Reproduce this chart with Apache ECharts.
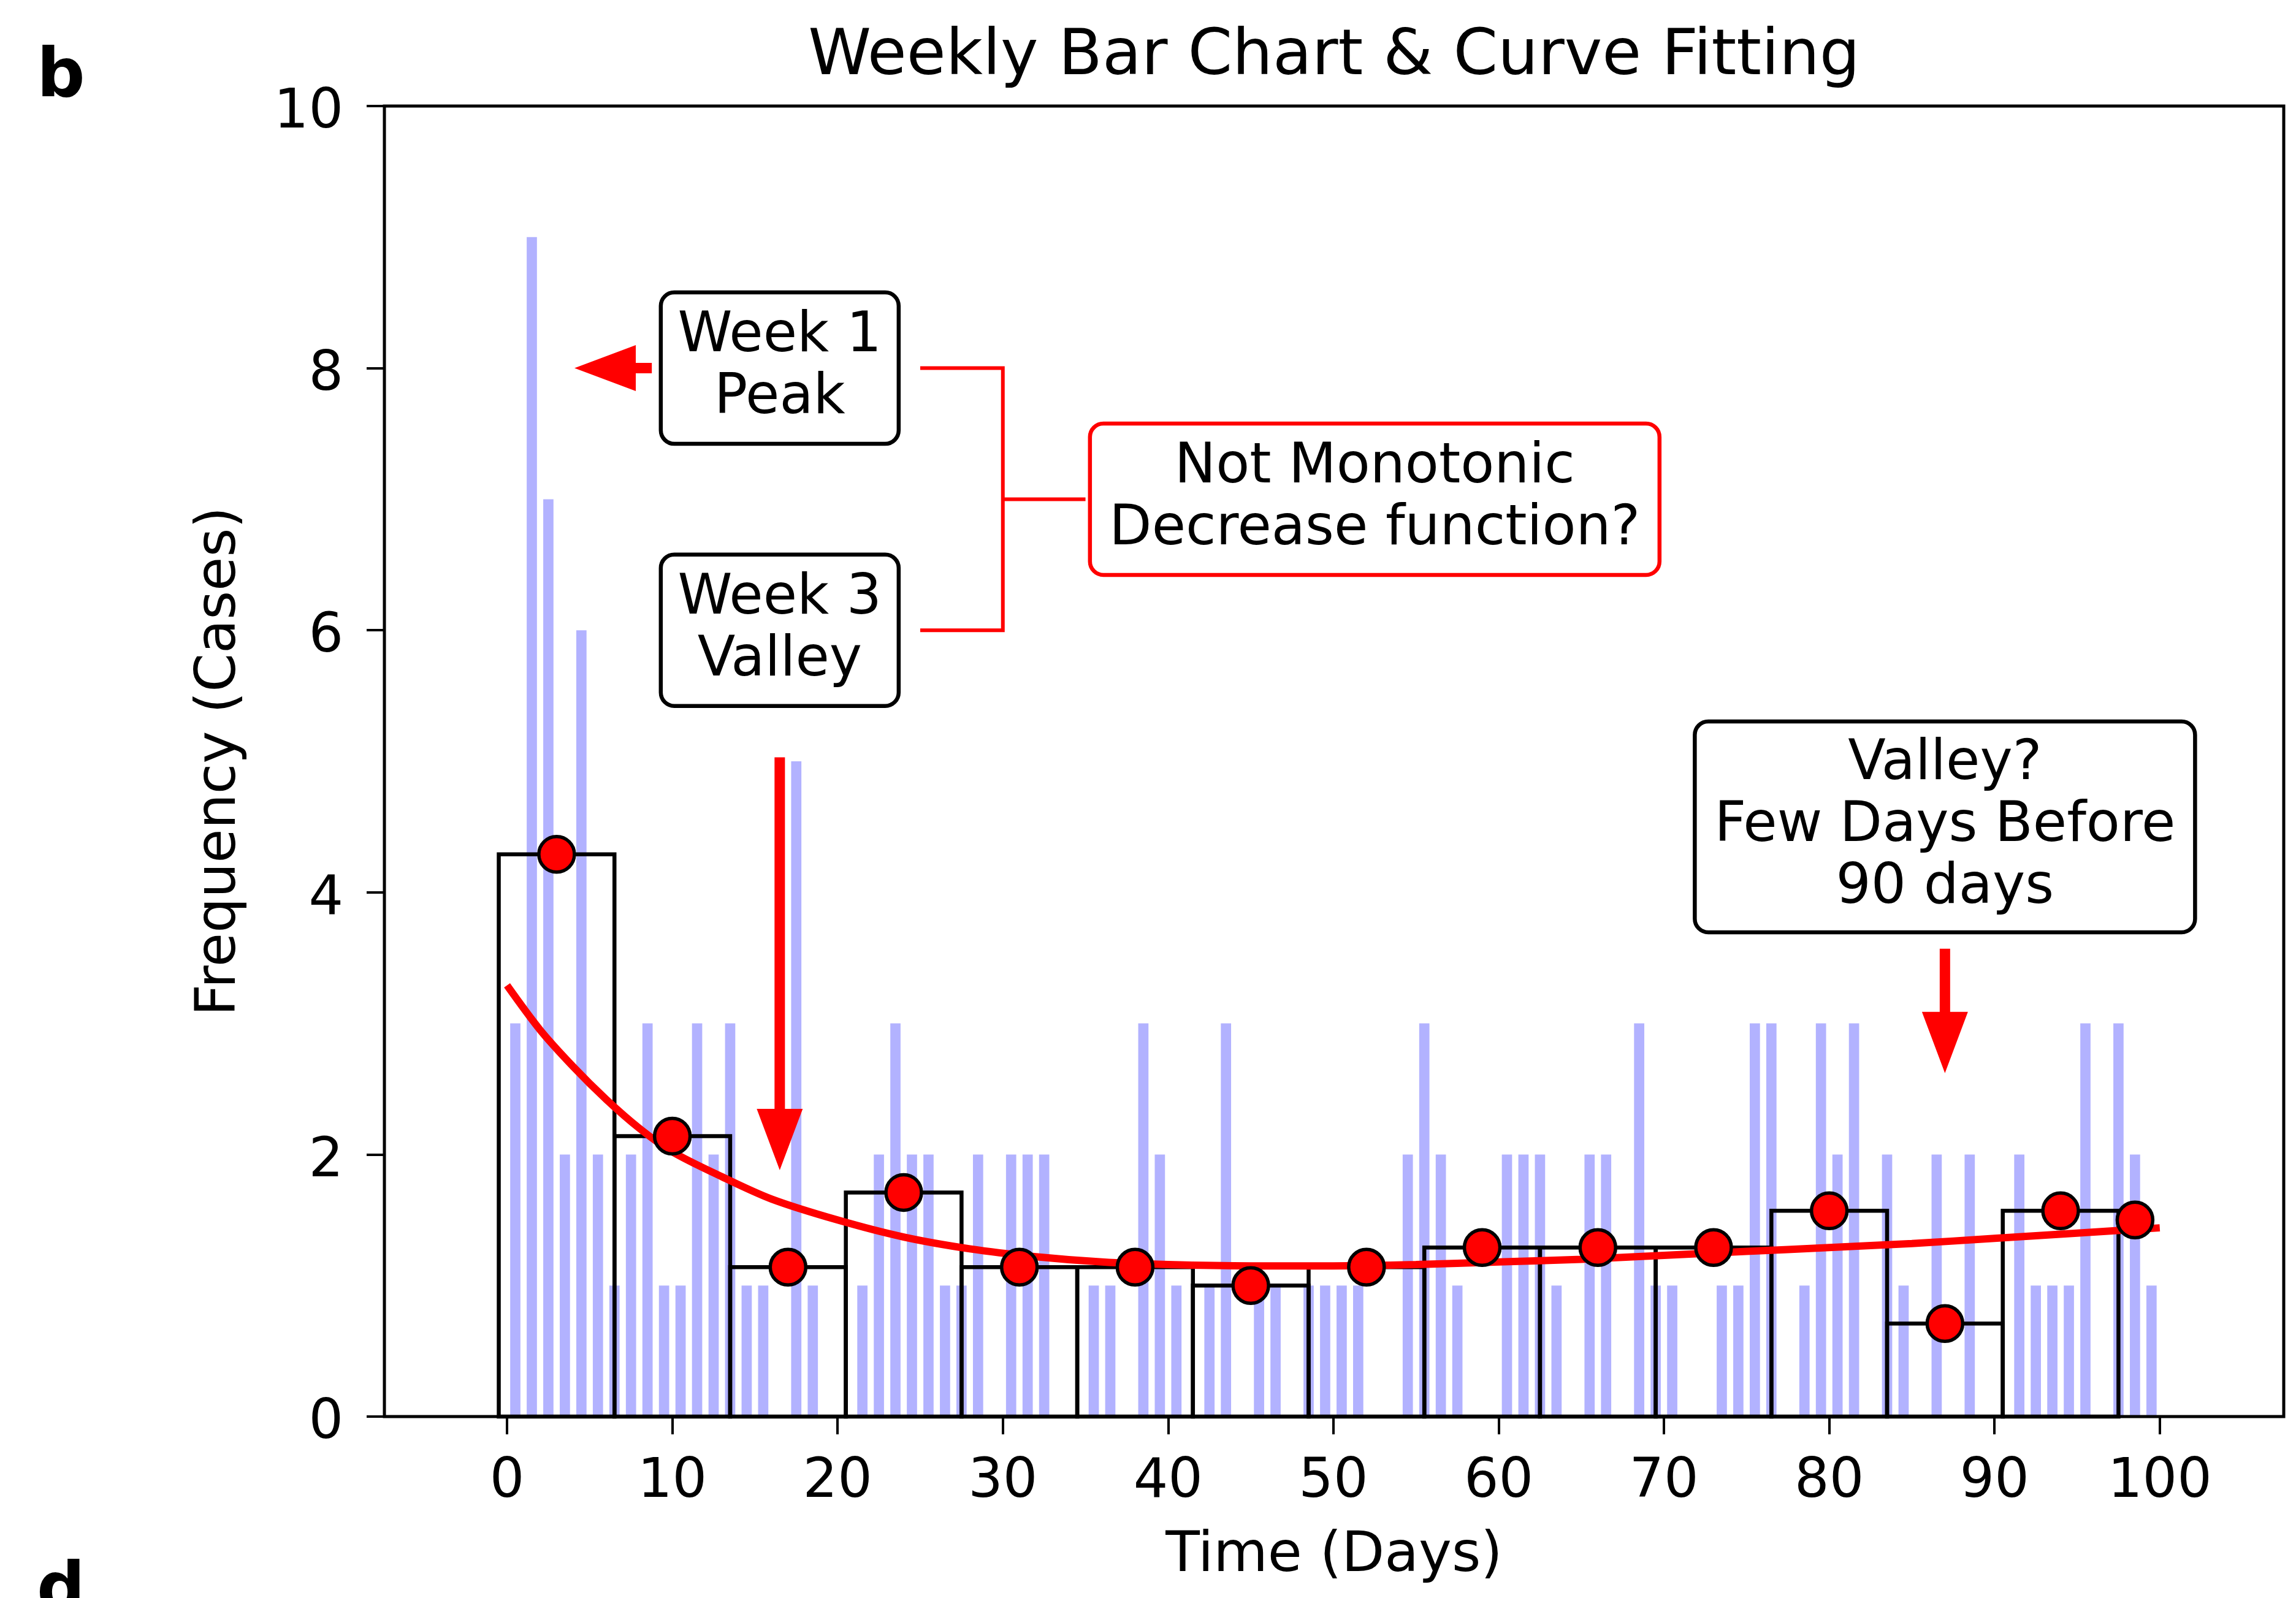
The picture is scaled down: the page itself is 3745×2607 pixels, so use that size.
<!DOCTYPE html>
<html>
<head>
<meta charset="utf-8">
<title>Weekly Bar Chart & Curve Fitting</title>
<script src="https://cdn.jsdelivr.net/npm/echarts@6/dist/echarts.min.js"></script>
<style>
  html, body { margin: 0; padding: 0; background: #fff; }
  #chart { width: 3745px; height: 2607px; }
</style>
</head>
<body>
<div id="chart"></div>
<script>
// daily case counts, day 0 .. 99 (bar drawn in the middle of each day)
const dailyCases = [
  3, 9, 7, 2, 6, 2, 1,
  2, 3, 1, 1, 3, 2, 3,
  1, 1, 0, 5, 1, 0, 0,
  1, 2, 3, 2, 2, 1, 1,
  2, 0, 2, 2, 2, 0, 0,
  1, 1, 0, 3, 2, 1, 0,
  1, 3, 0, 1, 1, 0, 1,
  1, 1, 1, 0, 0, 2, 3,
  2, 1, 0, 0, 2, 2, 2,
  1, 0, 2, 2, 0, 3, 1,
  1, 0, 0, 1, 1, 3, 3,
  0, 1, 3, 2, 3, 0, 2,
  1, 0, 2, 0, 2, 0, 0,
  2, 1, 1, 1, 3, 0, 3,
  2, 1
]

// weekly mean cases per day, plotted at the middle of each week
const weekCenters = [3, 10, 17, 24, 31, 38, 45, 52, 59, 66, 73, 80, 87, 94, 98.5]
const weekMeans = [4.29, 2.14, 1.14, 1.71, 1.14, 1.14, 1.0, 1.14, 1.29, 1.29, 1.29, 1.57, 0.71, 1.57, 1.5]
const fullWeeks = 14

// fitted curve
const fitDays = [0, 2, 4, 6, 8, 10, 13, 16, 20, 24, 28, 32, 36, 40, 45, 50, 55, 60, 65, 70, 75, 80, 85, 90, 95, 100]
const fitValues = [3.29, 2.95, 2.67, 2.42, 2.20, 2.02, 1.83, 1.66, 1.50, 1.37, 1.28, 1.22, 1.18, 1.16, 1.15, 1.15, 1.16, 1.18, 1.20, 1.23, 1.26, 1.29, 1.32, 1.36, 1.40, 1.44]

const xTicks = [0, 10, 20, 30, 40, 50, 60, 70, 80, 90, 100]
const xMin = -7.42
const xMax = 107.5
const yMax = 10

const FONT = 'DejaVu Sans'
const RED = '#ff0000'

const chart = echarts.init(document.getElementById('chart'))

const option = {
  backgroundColor: '#fff',
  animation: false,
  grid: { left: 627, right: 20, top: 173, bottom: 296, containLabel: false, outerBoundsMode: 'none' },
  xAxis: {
    type: 'value',
    min: xMin,
    max: xMax,
    name: 'Time (Days)',
    nameLocation: 'middle',
    nameGap: 183,
    nameTextStyle: { fontSize: 91, fontFamily: FONT, color: '#000' },
    axisLine: { show: false, onZero: false },
    axisTick: { show: true, customValues: xTicks, length: 29, lineStyle: { color: '#000', width: 4 } },
    axisLabel: { customValues: xTicks, fontSize: 89, fontFamily: FONT, color: '#000', margin: 63 },
    splitLine: { show: false },
  },
  yAxis: {
    type: 'value',
    min: 0,
    max: yMax,
    interval: 2,
    name: 'Frequency (Cases)',
    nameLocation: 'middle',
    nameGap: 222,
    nameTextStyle: { fontSize: 90, fontFamily: FONT, color: '#000' },
    axisLine: { show: false, onZero: false },
    axisTick: { show: true, length: 29, lineStyle: { color: '#000', width: 4 } },
    axisLabel: {
      margin: 67,
      formatter: '{v|{value}}',
      rich: { v: { fontSize: 89, fontFamily: FONT, color: '#000', padding: [24, 0, 0, 0] } },
    },
    splitLine: { show: false },
  },
  series: [
    {
      name: 'daily',
      type: 'custom',
      z: 1,
      encode: { x: 0, y: 1 },
      data: dailyCases.map((v, i) => [i + 0.5, v]),
      renderItem: (params, api) => {
        const x = api.value(0)
        const v = api.value(1)
        const p0 = api.coord([x - 0.31, v])
        const p1 = api.coord([x + 0.31, 0])
        return {
          type: 'rect',
          shape: { x: p0[0], y: p0[1], width: p1[0] - p0[0], height: p1[1] - p0[1] },
          style: { fill: 'rgba(0,0,255,0.3)' },
        }
      },
    },
    {
      name: 'weekly',
      type: 'custom',
      z: 2,
      encode: { x: 0, y: 1 },
      data: weekCenters.slice(0, fullWeeks).map((c, i) => [c, weekMeans[i]]),
      renderItem: (params, api) => {
        const c = api.value(0)
        const v = api.value(1)
        const p0 = api.coord([c - 3.5, v])
        const p1 = api.coord([c + 3.5, 0])
        return {
          type: 'rect',
          shape: { x: p0[0], y: p0[1], width: p1[0] - p0[0], height: p1[1] - p0[1] },
          style: { fill: 'none', stroke: '#000', lineWidth: 6.5 },
        }
      },
    },
    {
      name: 'fit',
      type: 'line',
      z: 3,
      smooth: 0.3,
      showSymbol: false,
      data: fitDays.map((d, i) => [d, fitValues[i]]),
      lineStyle: { color: RED, width: 12 },
    },
    {
      name: 'weekly mean',
      type: 'scatter',
      z: 4,
      symbolSize: 58,
      data: weekCenters.map((c, i) => [c, weekMeans[i]]),
      itemStyle: { color: RED, borderColor: '#000', borderWidth: 5.5, opacity: 1 },
    },
  ],
}

chart.setOption(option)

// ---- annotations, placed in data coordinates ----
const px = (x, y) => chart.convertToPixel({ gridIndex: 0 }, [x, y])

function textBox(x, y, w, h, text, borderColor) {
  const c = px(x, y)
  return {
    type: 'group',
    z: 100,
    children: [
      {
        type: 'rect',
        z: 100,
        shape: { x: c[0] - w / 2, y: c[1] - h / 2, width: w, height: h, r: 22 },
        style: { fill: '#fff', stroke: borderColor, lineWidth: 6.5 },
      },
      {
        type: 'text',
        z: 101,
        style: {
          text: text,
          x: c[0],
          y: c[1],
          fill: '#000',
          font: '90px "' + FONT + '"',
          lineHeight: 101,
          align: 'center',
          verticalAlign: 'middle',
          textAlign: 'center',
          textVerticalAlign: 'middle',
        },
      },
    ],
  }
}

function arrow(from, to) {
  const a = px(from[0], from[1])
  const b = px(to[0], to[1])
  const dx = b[0] - a[0]
  const dy = b[1] - a[1]
  const len = Math.sqrt(dx * dx + dy * dy)
  const ux = dx / len
  const uy = dy / len
  const nx = -uy
  const ny = ux
  const sw = 8.5
  const hw = 37.5
  const hl = 100
  const neck = [b[0] - ux * hl, b[1] - uy * hl]
  return {
    type: 'polygon',
    z: 100,
    shape: {
      points: [
        [a[0] + nx * sw, a[1] + ny * sw],
        [neck[0] + nx * sw, neck[1] + ny * sw],
        [neck[0] + nx * hw, neck[1] + ny * hw],
        b,
        [neck[0] - nx * hw, neck[1] - ny * hw],
        [neck[0] - nx * sw, neck[1] - ny * sw],
        [a[0] - nx * sw, a[1] - ny * sw],
      ],
    },
    style: { fill: RED },
  }
}

function polyline(pts, width) {
  return {
    type: 'polyline',
    z: 99,
    shape: { points: pts.map((p) => px(p[0], p[1])) },
    style: { stroke: RED, lineWidth: width, fill: 'none' },
  }
}

const topLeft = px(xMin, yMax)
const botRight = px(xMax, 0)

chart.setOption({
  graphic: [
    // axes frame
    {
      type: 'rect',
      z: 90,
      shape: { x: topLeft[0], y: topLeft[1], width: botRight[0] - topLeft[0], height: botRight[1] - topLeft[1] },
      style: { fill: 'none', stroke: '#000', lineWidth: 5 },
    },
    {
      type: 'text',
      z: 100,
      style: {
        text: 'Weekly Bar Chart & Curve Fitting',
        x: (topLeft[0] + botRight[0]) / 2,
        y: 94,
        fill: '#000',
        font: '104px "' + FONT + '"',
        align: 'center',
        verticalAlign: 'middle',
        textAlign: 'center',
        textVerticalAlign: 'middle',
      },
    },
    {
      type: 'text',
      z: 100,
      style: {
        text: 'b',
        x: 60,
        y: 128,
        fill: '#000',
        font: 'bold 110px "' + FONT + '"',
        align: 'left',
        verticalAlign: 'middle',
        textAlign: 'left',
        textVerticalAlign: 'middle',
      },
    },
    {
      type: 'text',
      z: 100,
      style: {
        text: 'd',
        x: 60,
        y: 2598,
        fill: '#000',
        font: 'bold 110px "' + FONT + '"',
        align: 'left',
        verticalAlign: 'middle',
        textAlign: 'left',
        textVerticalAlign: 'middle',
      },
    },
    // bracket linking the two week boxes
    polyline([[25, 8], [30, 8], [30, 6], [25, 6]], 6),
    polyline([[30, 7], [35, 7]], 6),
    textBox(16.5, 8.0, 388, 247, 'Week 1\nPeak', '#000'),
    textBox(16.5, 6.0, 388, 247, 'Week 3\nValley', '#000'),
    textBox(52.5, 7.0, 929, 247, 'Not Monotonic\nDecrease function?', RED),
    textBox(87.0, 4.5, 816, 344, 'Valley?\nFew Days Before\n90 days', '#000'),
    arrow([8.76, 8.0], [4.08, 8.0]),
    arrow([16.5, 5.03], [16.5, 1.88]),
    arrow([87.0, 3.57], [87.0, 2.62]),
  ],
})

window.addEventListener('resize', () => chart.resize())
</script>
</body>
</html>
